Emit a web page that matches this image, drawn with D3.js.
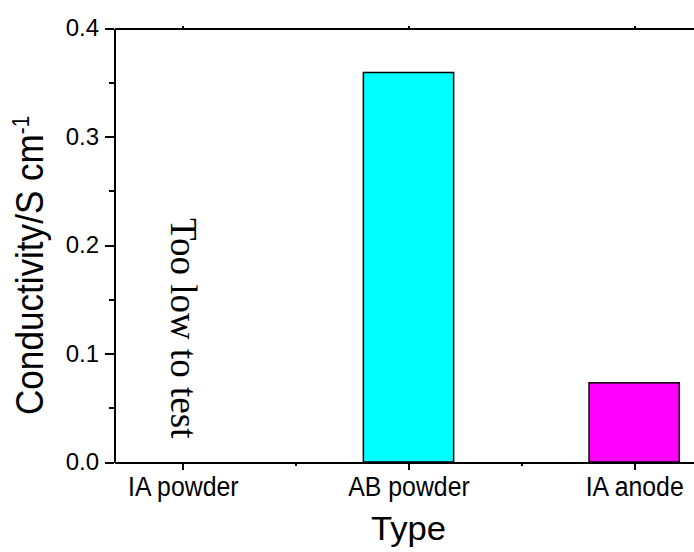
<!DOCTYPE html>
<meta charset="utf-8">
<style>
body { margin: 0; background-color: #fff; }
.axis path, .axis line { fill: none; stroke: #000; stroke-width: 2px; shape-rendering: crispEdges; }
.axis text { font-family: "Liberation Sans", Arial, sans-serif; fill: #000; }
.bar { stroke: #000; stroke-width: 1.5px; }
.note { font-family: "Liberation Serif", "DejaVu Serif", "Noto Serif", "Times New Roman", serif; font-size: 37px; }
</style>
<body>
<script src="https://d3js.org/d3.v7.min.js"></script>
<script>
// conductivity of the three sample types
var categories = ["IA powder", "AB powder", "IA anode"];
var values = [null, 0.359, 0.073];   // IA powder: too low to test
var colors = ["none", "#00FFFF", "#FF00FF"];
var yTicks = [0.0, 0.1, 0.2, 0.3, 0.4];
var yMinor = [0.05, 0.15, 0.25, 0.35];
var note = "Too low to test";

var svg = d3.select("body").append("svg")
    .attr("width", 694)
    .attr("height", 552);

var margin = {top: 28, left: 114, bottom: 90},
    height = 552 - margin.top - margin.bottom;

// categories sit at 1, 2, 3 on a linear axis (right frame runs off the page)
var x = d3.scaleLinear().domain([0.695, 3.305]).range([margin.left, 703]);
var y = d3.scaleLinear().domain([0, 0.4]).range([margin.top + height, margin.top]);
var barW = x(1.2) - x(0.8);

var g = svg.append("g");

// bars
g.selectAll(".bar")
    .data(values.map(function(v, i) { return {v: v, i: i}; }).filter(function(d) { return d.v != null; }))
  .enter().append("rect")
    .attr("class", "bar")
    .attr("x", function(d) { return x(d.i + 1) - barW / 2; })
    .attr("y", function(d) { return y(d.v); })
    .attr("width", barW)
    .attr("height", function(d) { return y(0) - y(d.v); })
    .attr("fill", function(d) { return colors[d.i]; });

// x axis: major ticks at categories, minor in between
g.append("g")
    .attr("class", "axis")
    .attr("transform", "translate(0," + y(0) + ")")
    .call(d3.axisBottom(x).tickValues([1.5, 2.5]).tickSize(4).tickSizeOuter(0).tickFormat(""));

g.append("g")
    .attr("class", "axis")
    .attr("transform", "translate(0," + y(0) + ")")
    .call(d3.axisBottom(x).tickValues([1, 2, 3]).tickSize(8).tickPadding(7).tickSizeOuter(0)
      .tickFormat(function(d) { return categories[d - 1]; }))
    .selectAll("text")
      .style("font-size", "27px")
      .attr("transform", "scale(0.92,1)");

// top frame
g.append("g")
    .attr("class", "axis")
    .attr("transform", "translate(0," + y(0.4) + ")")
    .call(d3.axisTop(x).tickValues([1, 2, 3]).tickSize(2).tickSizeOuter(0).tickFormat(""));

// y axis
g.append("g")
    .attr("class", "axis")
    .attr("transform", "translate(" + margin.left + ",0)")
    .call(d3.axisLeft(y).tickValues(yMinor).tickSize(5).tickSizeOuter(0).tickFormat(""));

g.append("g")
    .attr("class", "axis")
    .attr("transform", "translate(" + margin.left + ",0)")
    .call(d3.axisLeft(y).tickValues(yTicks).tickSize(9).tickPadding(6).tickSizeOuter(0)
      .tickFormat(d3.format(".1f")))
    .selectAll("text").style("font-size", "24px");

// axis titles
svg.append("text")
    .attr("transform", "translate(" + (x.range()[0] + x.range()[1]) / 2 + ",540) scale(1.05,1)")
    .attr("text-anchor", "middle")
    .style("font-family", "'Liberation Sans', Arial, sans-serif")
    .style("font-size", "33px")
    .text("Type");

var yt = svg.append("text")
    .attr("transform", "translate(43,415) rotate(-90) scale(0.9,1)")
    .style("font-family", "'Liberation Sans', Arial, sans-serif")
    .style("font-size", "39px");
yt.append("tspan").text("Conductivity/S cm");
yt.append("tspan").attr("dy", -14).style("font-size", "23px").text("-1");

// note over the missing bar
svg.append("text")
    .attr("class", "note")
    .attr("transform", "translate(" + (x(1) - 12) + ",218) rotate(90)")
    .text(note);
</script>
</body>
